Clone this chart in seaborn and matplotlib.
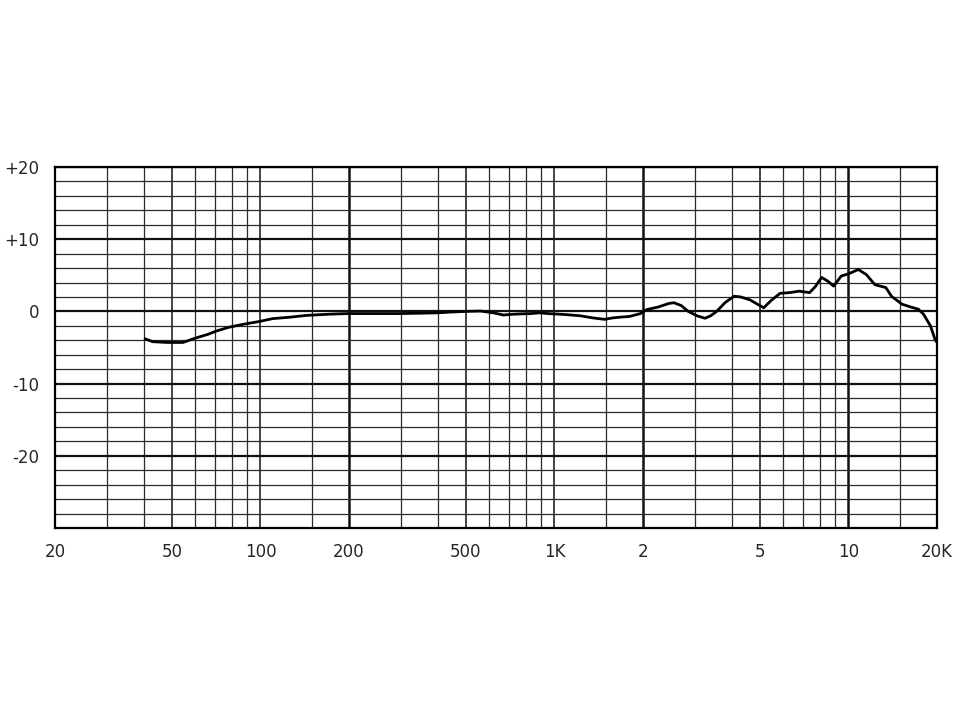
import matplotlib
matplotlib.use("Agg")
import matplotlib.pyplot as plt
import seaborn as sns
import numpy as np
import pandas as pd
from matplotlib.ticker import FixedLocator, NullFormatter

# ---- data ----
freq_hz = [40.5, 43, 48, 54.5, 60, 66, 71, 78, 87, 99, 110, 126, 143, 160, 176,
           200, 250, 297, 350, 400, 440, 500, 560, 620, 670, 720, 760, 830, 890,
           950, 1000, 1100, 1220, 1350, 1480, 1580, 1670, 1800, 1960, 2060, 2250,
           2450, 2550, 2700, 2850, 3050, 3250, 3400, 3560, 3800, 4080, 4300, 4620,
           4900, 5150, 5450, 5850, 6300, 6800, 7370, 7700, 8100, 8500, 8900, 9450,
           10000, 10800, 11500, 12300, 13400, 14000, 15200, 16300, 17300, 18000,
           19000, 19700, 20000]
level_db = [-3.8, -4.2, -4.3, -4.3, -3.7, -3.2, -2.7, -2.2, -1.8, -1.4, -1.0, -0.8,
            -0.56, -0.45, -0.37, -0.3, -0.3, -0.3, -0.25, -0.2, -0.1, 0.0, 0.05,
            -0.2, -0.5, -0.4, -0.35, -0.3, -0.2, -0.3, -0.35, -0.45, -0.6, -0.9,
            -1.1, -0.9, -0.8, -0.7, -0.3, 0.25, 0.6, 1.1, 1.2, 0.8, 0.0, -0.6,
            -0.95, -0.6, 0.0, 1.2, 2.1, 2.0, 1.6, 1.0, 0.5, 1.5, 2.5, 2.6, 2.8,
            2.6, 3.4, 4.7, 4.2, 3.5, 4.9, 5.2, 5.8, 5.1, 3.7, 3.3, 2.1, 1.0, 0.6,
            0.3, -0.4, -2.0, -3.9, -4.3]

x_tick_values = [20, 50, 100, 200, 500, 1000, 2000, 5000, 10000, 20000]
x_tick_labels = ["20", "50", "100", "200", "500", "1K", "2", "5", "10", "20K"]
x_grid_values = [20, 30, 40, 50, 60, 70, 80, 90, 100, 150, 200, 300, 400, 500,
                 600, 700, 800, 900, 1000, 1500, 2000, 3000, 4000, 5000, 6000,
                 7000, 8000, 9000, 10000, 15000, 20000]
x_bold_values = [200, 2000, 10000]
y_tick_values = [-20, -10, 0, 10, 20]
y_tick_labels = ["-20", "-10", "0", "+10", "+20"]
y_grid_values = list(range(-30, 21, 2))

df = pd.DataFrame({"freq": freq_hz, "db": level_db})

sns.set_style("white")
plt.rcParams["font.family"] = ["DejaVu Sans"]

fig = plt.figure(figsize=(9.6, 7.2), dpi=100)
ax = fig.add_axes([55 / 960, 1 - 528 / 720, (937 - 55) / 960, (528 - 167) / 720])

sns.lineplot(data=df, x="freq", y="db", ax=ax, color="black", linewidth=2.0,
             sort=False, zorder=5)

ax.set_xscale("log")
ax.set_xlim(20, 20000)
ax.set_ylim(-30, 20)

# grid via ticks
ax.xaxis.set_major_locator(FixedLocator(x_tick_values))
ax.set_xticklabels(x_tick_labels)
minor_x = [v for v in x_grid_values if v not in x_tick_values]
ax.xaxis.set_minor_locator(FixedLocator(minor_x))
ax.xaxis.set_minor_formatter(NullFormatter())

ax.yaxis.set_major_locator(FixedLocator(y_tick_values))
ax.set_yticklabels(y_tick_labels)
minor_y = [v for v in y_grid_values if v not in y_tick_values]
ax.yaxis.set_minor_locator(FixedLocator(minor_y))

ax.grid(which="major", axis="both", color="#111111", linewidth=1.1)
ax.grid(which="minor", axis="both", color="#2a2a2a", linewidth=0.9)
for line in ax.get_ygridlines():
    line.set_linewidth(1.6)

fig.canvas.draw()
for tick in ax.xaxis.get_major_ticks():
    if tick.get_loc() in x_bold_values:
        tick.gridline.set_linewidth(1.8)
for tick in ax.xaxis.get_minor_ticks():
    if tick.get_loc() in x_bold_values:
        tick.gridline.set_linewidth(1.8)

ax.tick_params(axis="both", which="both", length=0)
ax.tick_params(axis="x", pad=11, labelsize=12)
ax.tick_params(axis="y", pad=11, labelsize=12)
ax.set_xlabel("")
ax.set_ylabel("")

for s in ax.spines.values():
    s.set_visible(True)
    s.set_color("black")
    s.set_linewidth(1.6)

fig.savefig("out.png", dpi=100, facecolor="white")
